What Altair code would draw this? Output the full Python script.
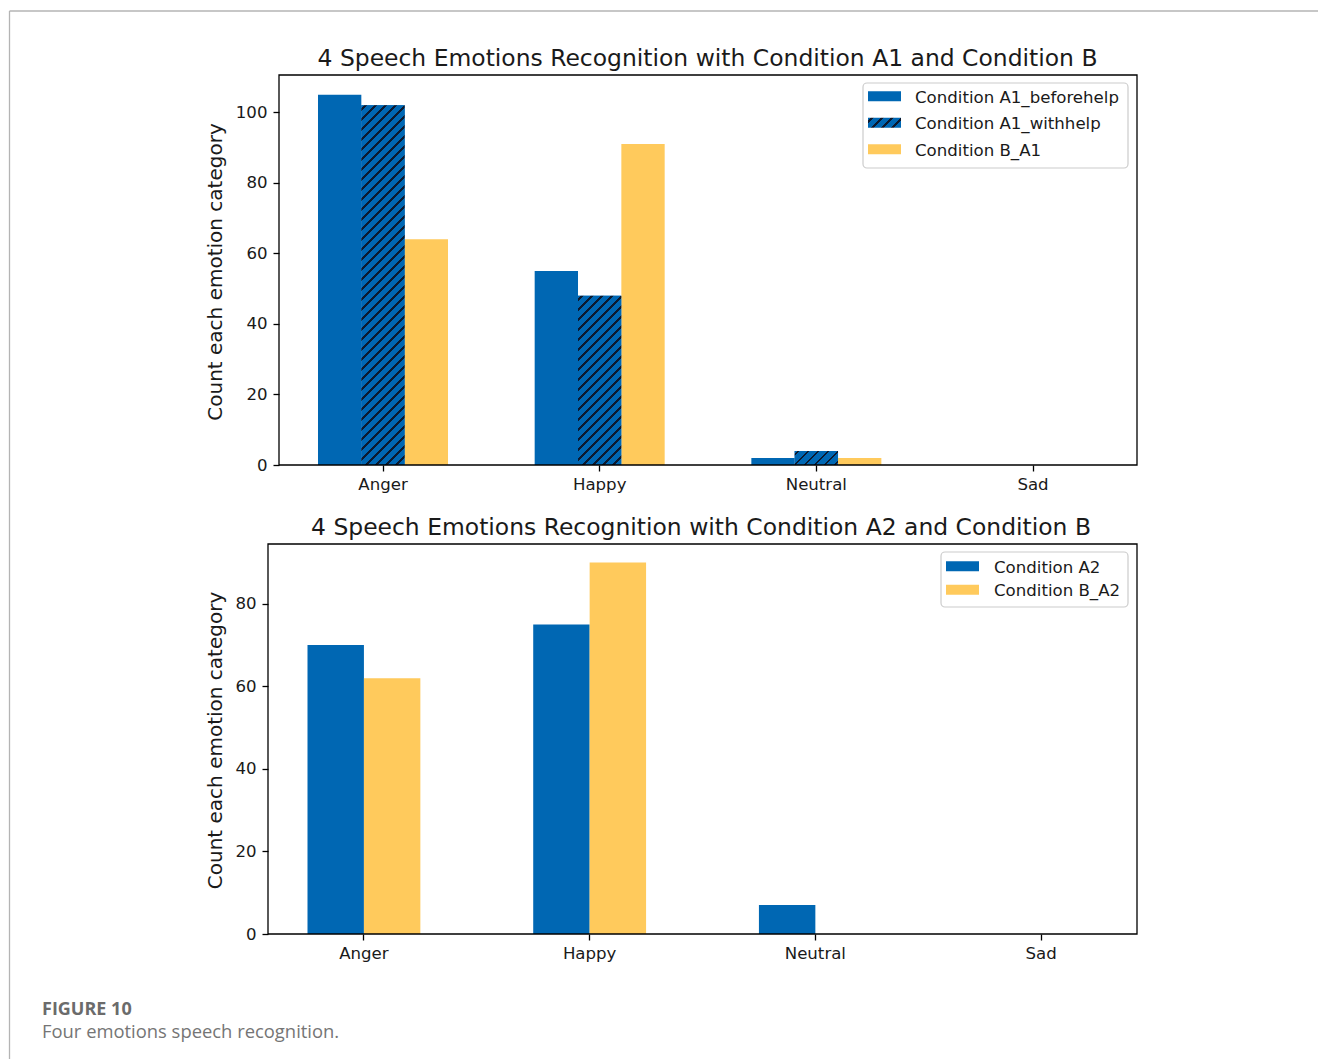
import altair as alt
import pandas as pd

# ---------------- data ----------------
emotions = ["Anger", "Happy", "Neutral", "Sad"]

a1_series = ["Condition A1_beforehelp", "Condition A1_withhelp", "Condition B_A1"]
a1_beforehelp = [105, 55, 2, 0]
a1_withhelp = [102, 48, 4, 0]
b_a1 = [64, 91, 2, 0]

a2_series = ["Condition A2", "Condition B_A2"]
a2_counts = [70, 75, 7, 0]
b_a2_counts = [62, 90, 0, 0]

top_ticks = [0, 20, 40, 60, 80, 100]
bottom_ticks = [0, 20, 40, 60, 80]

top_title = "4 Speech Emotions Recognition with Condition A1 and Condition B"
bottom_title = "4 Speech Emotions Recognition with Condition A2 and Condition B"
y_title = "Count each emotion category"
figure_label = "FIGURE 10"
figure_caption = "Four emotions speech recognition."

# ---------------- style / layout ----------------
BLUE = "#0067b3"
YELLOW = "#ffca5c"
HATCH = "#0c1a30"
INK = "#1a1a1a"
FONT = "DejaVu Sans"
TICK_FS = 16.6
TITLE_FS = 23.45
YLABEL_FS = 20.0

PANEL_W = 869
PANEL_H = 390
GAP = 79

TOP_YMAX = 110.6
BOTTOM_YMAX = 94.5

# band layout of the two panels (group = series bars side by side)
TOP_PAD_IN, TOP_PAD_OUT, TOP_ALIGN = 0.4, 0.2053, 0.562
BOT_PAD_IN, BOT_PAD_OUT = 0.5, 0.175
TOP_STEP = PANEL_W / (len(emotions) - TOP_PAD_IN + 2 * TOP_PAD_OUT)
TOP_BAR_W = TOP_STEP * (1 - TOP_PAD_IN) / len(a1_series)
TOP_INSET = 11  # left spine of the upper panel sits inside its view

one = pd.DataFrame({"k": [0]})


def hatch_gradient(w, h, period=10.0, thick=2.4, phase=3.0):
    """Diagonal '//' hatch as a hard-stop linear gradient for a w x h box."""
    span = w + h
    norm = w * w + h * h
    stops = [alt.GradientStop(offset=0, color=BLUE)]
    pos = phase
    while pos < span:
        a = round(pos / span, 5)
        b = round(min(pos + thick, span) / span, 5)
        stops += [
            alt.GradientStop(offset=a, color=BLUE),
            alt.GradientStop(offset=a, color=HATCH),
            alt.GradientStop(offset=b, color=HATCH),
            alt.GradientStop(offset=b, color=BLUE),
        ]
        pos += period
    stops.append(alt.GradientStop(offset=1, color=BLUE))
    return alt.LinearGradient(
        gradient="linear", stops=stops, x1=0, y1=0,
        x2=w * span / norm, y2=h * span / norm,
    )


def box(x, x2, y, y2, **style):
    return alt.Chart(one).mark_rect(**style).encode(
        x=alt.value(x), x2=alt.value(x2), y=alt.value(y), y2=alt.value(y2)
    )


def rule(x, x2, y, y2, color, width):
    return alt.Chart(one).mark_rule(color=color, strokeWidth=width).encode(
        x=alt.value(x), x2=alt.value(x2), y=alt.value(y), y2=alt.value(y2)
    )


def note(text, x, y, size, color=INK, weight="normal", font=FONT,
         align="center", angle=0, baseline="alphabetic"):
    return alt.Chart(one).mark_text(
        text=text, font=font, fontSize=size, fontWeight=weight, color=color,
        align=align, baseline=baseline, angle=angle,
    ).encode(x=alt.value(x), y=alt.value(y))


def legend(labels, fills, bx, bx2, by, by2, sx, rows, tx):
    parts = [box(bx, bx2, by, by2, fill="white", stroke="#cccccc",
                 strokeWidth=1.2, cornerRadius=4)]
    for label, fill, cy in zip(labels, fills, rows):
        parts.append(box(sx, sx + 33, cy - 5, cy + 5, fill=fill))
        parts.append(note(label, tx, cy + 1.5, TICK_FS, align="left", baseline="middle"))
    return parts


def encodings(series, xscale, ymax, ticks, y_offset):
    x = alt.X(
        "emotion:N", sort=emotions, scale=xscale,
        axis=alt.Axis(title=None, labelAngle=0, labelPadding=5.4, tickSize=6),
    )
    y = alt.Y(
        "count:Q", scale=alt.Scale(domain=[0, ymax], nice=False),
        axis=alt.Axis(title=None, values=ticks, offset=y_offset, labelPadding=6, tickSize=6),
    )
    xo = alt.XOffset("series:N", sort=series, scale=alt.Scale(domain=series))
    return x, y, xo


# ---------------- upper panel ----------------
top_df = pd.DataFrame({
    "emotion": emotions * 3,
    "series": [s for s in a1_series for _ in emotions],
    "count": a1_beforehelp + a1_withhelp + b_a1,
})

top_x, top_y, top_xo = encodings(
    a1_series,
    alt.Scale(domain=emotions, paddingInner=TOP_PAD_IN, paddingOuter=TOP_PAD_OUT, align=TOP_ALIGN),
    TOP_YMAX, top_ticks, -TOP_INSET,
)

top_bars = alt.Chart(top_df).mark_bar().encode(
    x=top_x, y=top_y, xOffset=top_xo,
    color=alt.Color("series:N", scale=alt.Scale(domain=a1_series, range=[BLUE, BLUE, YELLOW]), legend=None),
)

top_hatches = []
for emo, v in zip(emotions, a1_withhelp):
    if v <= 0:
        continue
    h = v * PANEL_H / TOP_YMAX
    top_hatches.append(
        alt.Chart(top_df)
        .transform_filter((alt.datum.series == a1_series[1]) & (alt.datum.emotion == emo))
        .mark_bar(fill=hatch_gradient(TOP_BAR_W, h))
        .encode(x=top_x, y=top_y, xOffset=top_xo)
    )

top_layers = [
    # page extent and the thin page frame
    box(-268, 1050, -75, 984, fill="white", fillOpacity=0),
    rule(-258.5, -258.5, -64, 984, "#b4b4b4", 1.3),
    rule(-258.5, 1050, -64, -64, "#b4b4b4", 1.3),
    top_bars,
    *top_hatches,
    box(TOP_INSET, PANEL_W, 0, PANEL_H, fill="transparent", stroke="#000000", strokeWidth=1.3),
    *legend(a1_series, [BLUE, hatch_gradient(33, 10), YELLOW],
            595, 860, 8, 93, 600, [21.3, 47.8, 74.3], 647),
    note(top_title, 439.5, -9.5, TITLE_FS),
    note(y_title, -46.5, 197, YLABEL_FS, angle=270),
]
top_panel = alt.layer(*top_layers).properties(width=PANEL_W, height=PANEL_H)

# ---------------- lower panel ----------------
bot_df = pd.DataFrame({
    "emotion": emotions * 2,
    "series": [s for s in a2_series for _ in emotions],
    "count": a2_counts + b_a2_counts,
})

bot_x, bot_y, bot_xo = encodings(
    a2_series,
    alt.Scale(domain=emotions, paddingInner=BOT_PAD_IN, paddingOuter=BOT_PAD_OUT),
    BOTTOM_YMAX, bottom_ticks, 0,
)

bot_bars = alt.Chart(bot_df).mark_bar().encode(
    x=bot_x, y=bot_y, xOffset=bot_xo,
    color=alt.Color("series:N", scale=alt.Scale(domain=a2_series, range=[BLUE, YELLOW]), legend=None),
)

bot_layers = [
    bot_bars,
    box(0, PANEL_W, 0, PANEL_H, fill="transparent", stroke="#000000", strokeWidth=1.3),
    *legend(a2_series, [BLUE, YELLOW], 673, 860, 8, 63, 678, [22.3, 45.7], 726),
    note(bottom_title, 433, -9.5, TITLE_FS),
    note(y_title, -46.5, 196.5, YLABEL_FS, angle=270),
    note(figure_label, -226, 470.5, 18, color="#6b6b6b", weight="bold",
         font="Open Sans", align="left"),
    note(figure_caption, -226, 493.5, 18.4, color="#757575", font="Open Sans", align="left"),
]
bottom_panel = alt.layer(*bot_layers).properties(width=PANEL_W, height=PANEL_H)

chart = (
    alt.vconcat(top_panel, bottom_panel, spacing=GAP, bounds="flush")
    .resolve_scale(x="independent", y="independent", xOffset="independent", color="independent")
    .properties(padding=0, background="white")
    .configure_view(strokeWidth=0)
    .configure_axis(
        labelFont=FONT, labelFontSize=TICK_FS, labelColor=INK,
        tickColor="#000000", tickWidth=1.3, domain=False, grid=False,
    )
)

chart.save("out.html", embed_options={"renderer": "svg", "actions": False})
